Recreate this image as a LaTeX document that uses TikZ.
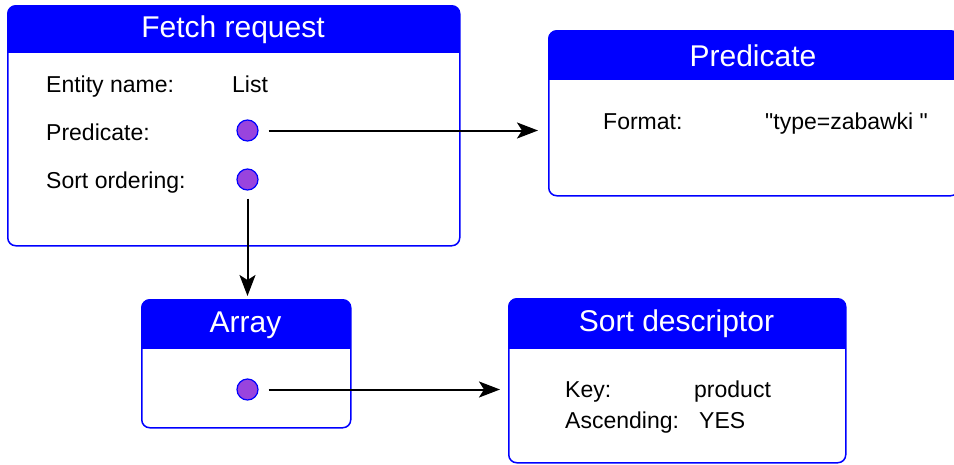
\documentclass[tikz,border=0pt]{standalone}
\usepackage{fontspec}
\setmainfont{Liberation Sans}
\usetikzlibrary{arrows.meta}
\definecolor{slotfill}{RGB}{153,68,221}
\tikzset{
  panel/.style={draw=blue, line width=1.5pt, rounded corners=8pt, fill=white,
    anchor=north west, inner sep=0pt,
    path picture={\fill[blue, sharp corners] (path picture bounding box.north west)
      rectangle ([yshift=-#1]path picture bounding box.north east);}},
  panel/.default=48pt,
  title/.style={anchor=base, text=white, font=\fontsize{30}{36}\selectfont},
  field/.style={anchor=base west, inner sep=0pt, font=\fontsize{23}{27}\selectfont},
  slot/.style={circle, draw=blue, fill=slotfill, line width=1.2pt, minimum size=21pt, inner sep=0pt},
  link/.style={-{Stealth[length=21pt,width=16pt,inset=5pt]}, line width=2pt, shorten <=10pt, shorten >=10pt},
}
\begin{document}
\begin{tikzpicture}[x=1pt, y=-1pt]
  \useasboundingbox (0,0) rectangle (954,464);
  % the four records
  \node[panel=47pt, minimum width=452pt, minimum height=240pt] (fetch) at (7,5) {};
  \node[panel=49pt, minimum width=410pt, minimum height=165pt] (pred) at (548,30) {};
  \node[panel=49pt, minimum width=209pt, minimum height=128pt] (array) at (141,299) {};
  \node[panel=50pt, minimum width=337pt, minimum height=164pt] (sortd) at (508,298) {};
  \node[title] (fetchT) at (233,37) {Fetch request};
  \node[title] (predT) at (753,66) {Predicate};
  \node[title] (arrayT) at (245.5,332) {Array};
  \node[title] (sortdT) at (676.5,331) {Sort descriptor};
  % fetch request fields
  \node[field] (ename) at (46,92) {Entity name:};
  \node[field] (list) at (232,92) {List};
  \node[field] (fpred) at (46,140) {Predicate:};
  \node[field] (fsort) at (46,188) {Sort ordering:};
  \node[slot] (ppred) at (247.5,130.5) {};
  \node[slot] (psort) at (247.5,179.5) {};
  % predicate
  \node[field] (fmt) at (603,129) {Format:};
  \node[field] (fmtval) at (765,129) {\textquotedbl type=zabawki \textquotedbl};
  % array
  \node[slot] (parr) at (247.5,389.5) {};
  % sort descriptor
  \node[field] (key) at (565,397) {Key:};
  \node[field] (keyval) at (694,397) {product};
  \node[field] (asc) at (565,428) {Ascending:};
  \node[field] (ascval) at (699,428) {YES};
  % references
  \draw[link] (ppred) -- (ppred -| pred.west);
  \draw[link, shorten <=8pt, shorten >=3pt] (psort) -- (psort |- array.north);
  \draw[link, shorten >=8pt] (parr) -- (parr -| sortd.west);
\end{tikzpicture}
\end{document}
